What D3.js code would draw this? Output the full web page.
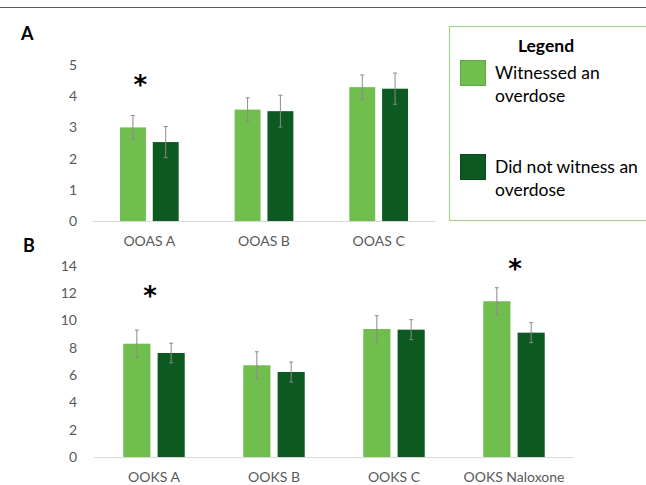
<!DOCTYPE html>
<html>
<head>
<meta charset="utf-8">
<script src="https://cdn.jsdelivr.net/npm/d3@7"></script>
<style>
  body { margin: 0; background: #fff; }
  svg { display: block; font-family: Lato, "Open Sans", sans-serif; }
</style>
</head>
<body>
<div id="chart"></div>
<script>
// panel A data (OOAS)
var catsA = ["OOAS A", "OOAS B", "OOAS C"];
var witnessedA = [3.0, 3.57, 4.29];
var notWitnessedA = [2.53, 3.52, 4.24];
var errWitnessedA = [0.38, 0.38, 0.39];
var errNotWitnessedA = [0.5, 0.51, 0.5];
var ticksA = [0, 1, 2, 3, 4, 5];
var starsA = [{ cat: "OOAS A", value: 4.55, shift: -9 }];

// panel B data (OOKS)
var catsB = ["OOKS A", "OOKS B", "OOKS C", "OOKS Naloxone"];
var witnessedB = [8.3, 6.72, 9.38, 11.41];
var notWitnessedB = [7.62, 6.23, 9.33, 9.11];
var errWitnessedB = [1.0, 0.99, 0.97, 0.99];
var errNotWitnessedB = [0.72, 0.73, 0.73, 0.73];
var ticksB = [0, 2, 4, 6, 8, 10, 12, 14];
var starsB = [{ cat: "OOKS A", value: 12.2, shift: -4 }, { cat: "OOKS Naloxone", value: 14.2, shift: 1 }];

var seriesNames = ["Witnessed an overdose", "Did not witness an overdose"];
var colors = ["#6fbe4e", "#0c5a22"];
var borders = ["#5fa842", "#0a4c1d"];

var width = 646, height = 485;

var svg = d3.select("#chart")
    .append("svg")
    .attr("width", width)
    .attr("height", height);

// top rule
svg.append("line")
    .attr("x1", 0).attr("x2", width)
    .attr("y1", 7.5).attr("y2", 7.5)
    .attr("stroke", "#595959")
    .attr("stroke-width", 1.2);

function drawPanel(opt) {
    var x = d3.scaleBand()
        .domain(opt.cats)
        .range([opt.x0, opt.x1])
        .padding(0);
    var y = d3.scaleLinear()
        .domain([0, opt.max])
        .range([opt.y0, opt.y1]);

    var bw = x.bandwidth();
    var barW = bw * 0.226;
    var gap = bw * 0.06;

    var g = svg.append("g");

    // tick labels
    g.selectAll(".tick")
        .data(opt.ticks)
        .enter().append("text")
        .attr("x", 77)
        .attr("y", function(d) { return y(d); })
        .attr("dy", "0.35em")
        .attr("text-anchor", "end")
        .attr("fill", "#595959")
        .style("font-size", "14px")
        .text(function(d) { return d; });

    // baseline
    g.append("line")
        .attr("x1", opt.x0).attr("x2", opt.x1)
        .attr("y1", y(0) + 0.5).attr("y2", y(0) + 0.5)
        .attr("stroke", "#d9d9d9")
        .attr("stroke-width", 1);

    var rows = opt.cats.map(function(c, i) {
        return [
            { cat: c, s: 0, v: opt.vals[0][i], e: opt.errs[0][i] },
            { cat: c, s: 1, v: opt.vals[1][i], e: opt.errs[1][i] }
        ];
    });
    var flat = [].concat.apply([], rows);

    function barX(d) {
        var c = x(d.cat) + bw / 2;
        return d.s === 0 ? c - gap / 2 - barW : c + gap / 2;
    }

    g.selectAll(".bar")
        .data(flat)
        .enter().append("rect")
        .attr("x", barX)
        .attr("y", function(d) { return y(d.v); })
        .attr("width", barW)
        .attr("height", function(d) { return y(0) - y(d.v); })
        .attr("fill", function(d) { return colors[d.s]; });

    // error bars
    var eb = g.selectAll(".err")
        .data(flat)
        .enter().append("g")
        .attr("stroke", "#8a8a8a")
        .attr("stroke-width", 1);
    eb.append("line")
        .attr("x1", function(d) { return barX(d) + barW / 2; })
        .attr("x2", function(d) { return barX(d) + barW / 2; })
        .attr("y1", function(d) { return y(d.v + d.e); })
        .attr("y2", function(d) { return y(d.v - d.e); });
    eb.append("line")
        .attr("x1", function(d) { return barX(d) + barW / 2 - 2; })
        .attr("x2", function(d) { return barX(d) + barW / 2 + 2; })
        .attr("y1", function(d) { return y(d.v + d.e); })
        .attr("y2", function(d) { return y(d.v + d.e); });
    eb.append("line")
        .attr("x1", function(d) { return barX(d) + barW / 2 - 2; })
        .attr("x2", function(d) { return barX(d) + barW / 2 + 2; })
        .attr("y1", function(d) { return y(d.v - d.e); })
        .attr("y2", function(d) { return y(d.v - d.e); });

    // category labels
    g.selectAll(".cat")
        .data(opt.cats)
        .enter().append("text")
        .attr("x", function(d) { return x(d) + bw / 2; })
        .attr("y", y(0) + 25)
        .attr("text-anchor", "middle")
        .attr("fill", "#595959")
        .style("font-size", "14px")
        .text(function(d) { return d; });

    // significance stars
    g.selectAll(".star")
        .data(opt.stars)
        .enter().append("text")
        .attr("x", function(d) { return x(d.cat) + bw / 2 + d.shift; })
        .attr("y", function(d) { return y(d.value) + 15; })
        .attr("text-anchor", "middle")
        .attr("fill", "#000")
        .style("font-family", "'DejaVu Sans', sans-serif")
        .style("font-size", "26px")
        .style("font-weight", "bold")
        .text("*");

    // panel letter
    svg.append("text")
        .attr("x", opt.letterX)
        .attr("y", opt.letterY)
        .style("font-size", "18px")
        .style("font-weight", "bold")
        .attr("fill", "#000")
        .text(opt.letter);
}

drawPanel({
    cats: catsA, vals: [witnessedA, notWitnessedA], errs: [errWitnessedA, errNotWitnessedA],
    ticks: ticksA, max: 5, stars: starsA,
    x0: 92, x1: 436, y0: 221, y1: 65,
    letter: "A", letterX: 21, letterY: 39.5
});

drawPanel({
    cats: catsB, vals: [witnessedB, notWitnessedB], errs: [errWitnessedB, errNotWitnessedB],
    ticks: ticksB, max: 14, stars: starsB,
    x0: 94, x1: 574, y0: 457, y1: 265.9,
    letter: "B", letterX: 23, letterY: 252
});

// legend
var legend = svg.append("g");
legend.append("rect")
    .attr("x", 449.5).attr("y", 26.5)
    .attr("width", 260).attr("height", 194)
    .attr("fill", "none")
    .attr("stroke", "#a9d18e")
    .attr("stroke-width", 1.2);
legend.append("text")
    .attr("x", 546).attr("y", 51.5)
    .attr("text-anchor", "middle")
    .style("font-size", "17.5px")
    .style("font-weight", "bold")
    .attr("fill", "#000")
    .text("Legend");

var legendLines = [["Witnessed an", "overdose"], ["Did not witness an", "overdose"]];
var item = legend.selectAll(".item")
    .data(seriesNames)
    .enter().append("g")
    .attr("transform", function(d, i) { return "translate(460," + (60 + i * 94) + ")"; });
item.append("rect")
    .attr("x", 0.5).attr("y", 0.5)
    .attr("width", 25).attr("height", 25)
    .attr("fill", function(d, i) { return colors[i]; })
    .attr("stroke", function(d, i) { return borders[i]; });
item.each(function(d, i) {
    d3.select(this).selectAll("text")
        .data(legendLines[i])
        .enter().append("text")
        .attr("x", 35)
        .attr("y", function(t, j) { return 19 + j * 23; })
        .style("font-size", "17.5px")
        .attr("fill", "#000")
        .text(function(t) { return t; });
});
</script>
</body>
</html>
